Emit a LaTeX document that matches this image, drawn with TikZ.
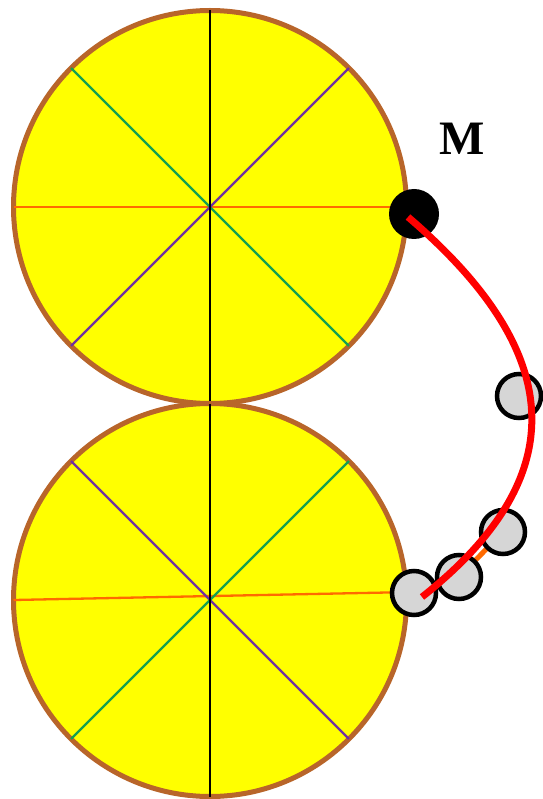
\documentclass[tikz,border=0pt]{standalone}
\usepackage{fontspec}
\setmainfont{Liberation Serif}
\usetikzlibrary{calc}
\definecolor{rim}{HTML}{B8652A}
\definecolor{disc}{HTML}{FFFF00}
\definecolor{spokeorange}{HTML}{FF6A00}
\definecolor{spokegreen}{HTML}{14A050}
\definecolor{spokepurple}{HTML}{7030A0}
\definecolor{coin}{HTML}{D6D6D6}
\tikzset{
    wheel/.style={
        fill=disc,
        draw=rim,
        line width=5pt
    },
    spoke/.style={
        line width=2.3pt
    },
    ghost/.style={
        circle,
        fill=coin,
        draw=black,
        line width=4.5pt,
        minimum size=44pt,
        inner sep=0pt
    },
    marker/.style={
        circle,
        fill=black,
        minimum size=50pt,
        inner sep=0pt
    },
    trajectory/.style={
        line width=7pt,
        color=red
    },
    pointlabel/.style={
        font=\fontsize{48}{48}\selectfont\bfseries,
        inner sep=0pt
    }
}

\begin{document}
\begin{tikzpicture}[x=1pt,y=-1pt]

    \useasboundingbox (0,0) rectangle (542,799);

    \def\R{196.5}

    % Centres
    \coordinate (top) at (210,207);
    \coordinate (bot) at (210,600);

    % Roue du haut
    \draw[wheel] (top) circle (\R);
    \draw[spoke,spokeorange] ($(top)+(180:\R)$) -- ($(top)+(0:\R)$);
    \draw[spoke,spokegreen] ($(top)+(225:\R)$) -- ($(top)+(45:\R)$);
    \draw[spoke,spokepurple] ($(top)+(135:\R)$) -- ($(top)+(315:\R)$);
    \draw[spoke,black] ($(top)+(270:\R)$) -- ($(top)+(90:\R)$);

    % Roue du bas
    \draw[wheel] (bot) circle (\R);
    \draw[spoke,spokeorange] ($(bot)+(180:\R)$) -- ($(bot)+(-2.3:\R)$);
    \draw[spoke,spokepurple] ($(bot)+(225:\R)$) -- ($(bot)+(45:\R)$);
    \draw[spoke,spokegreen] ($(bot)+(135:\R)$) -- ($(bot)+(315:\R)$);
    \draw[spoke,black] ($(bot)+(270:\R)$) -- ($(bot)+(90:\R)$);

    % Positions du point
    \coordinate (g1) at (519,396);
    \coordinate (g2) at (503,532);
    \coordinate (g3) at (459,577);
    \coordinate (g4) at (414,593);

    % Petit bout orange
    \draw[spokeorange,line width=5pt] (g3) -- (g2);

    \node[ghost] (ghost1) at (g1) {};
    \node[ghost] (ghost2) at (g2) {};
    \node[ghost] (ghost3) at (g3) {};
    \node[ghost] (ghost4) at (g4) {};

    % Point M
    \node[marker] (dotM) at (414,214) {};
    \node[pointlabel] (labelM) at (462,139) {M};

    % Trajectoire
    \coordinate (start) at (408,217);
    \coordinate (finish) at (422,597);
    \draw[trajectory]
        (start) .. controls (555,343) and (585,468) .. (finish);

\end{tikzpicture}
\end{document}
